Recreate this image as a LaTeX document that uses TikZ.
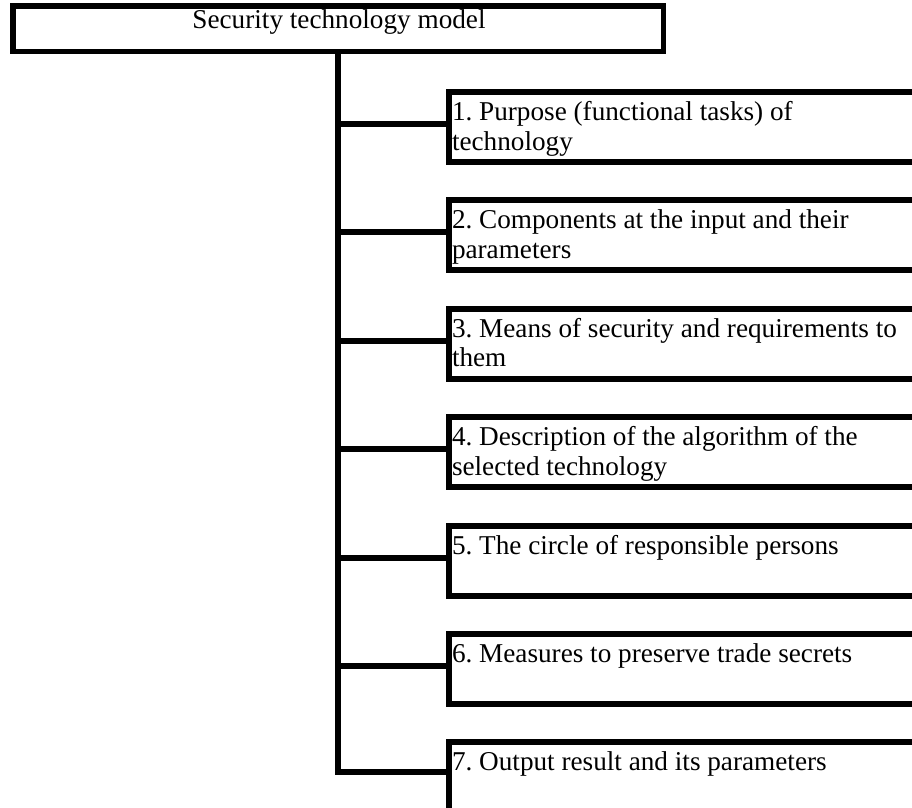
\documentclass[tikz,border=0pt]{standalone}
\usepackage{fontspec}
\setmainfont{Liberation Serif}
\frenchspacing
\begin{document}
\begin{tikzpicture}[x=1pt,y=-1pt,
  headbox/.style={draw, line width=5.5pt, minimum width=650.5pt, minimum height=45.5pt, inner sep=0pt},
  headtxt/.style={anchor=base, inner sep=0pt, font=\fontsize{27.2}{29.5}\selectfont},
  item/.style={draw, line width=6pt, anchor=north west, inner xsep=3pt, inner ysep=0pt,
    font=\fontsize{27.2}{29.5}\selectfont},
  conn/.style={line width=6pt, line join=miter, line cap=butt}]
\useasboundingbox (0,0) rectangle (912,807);
\clip (0,0) rectangle (912,807);
\newcommand{\itemtext}[2][70pt]{\parbox[t][#1][t]{480pt}{\frenchspacing\rule{0pt}{28.5pt}#2}}
% header
\node[headbox] (head) at (338,28.5) {};
\node[headtxt] (headtext) at (339,28.5) {Security technology model};
% items
\node[item] (b1) at (446,89.0) {\itemtext{1. Purpose (functional tasks) of\\technology}};
\node[item] (b2) at (446,197.4) {\itemtext{2. Components at the input and their\\parameters}};
\node[item] (b3) at (446,305.8) {\itemtext{3. Means of security and requirements to\\them}};
\node[item] (b4) at (446,414.2) {\itemtext{4. Description of the algorithm of the\\selected technology}};
\node[item] (b5) at (446,522.6) {\itemtext{5. The circle of responsible persons}};
\node[item] (b6) at (446,631.0) {\itemtext{6. Measures to preserve trade secrets}};
\node[item] (b7) at (446,739.0) {\itemtext[90pt]{7. Output result and its parameters}};
% connectors
\coordinate (c7) at (b7.north west |- 0,772);
\draw[conn] (head.south) |- (c7);
\foreach \i/\y in {b1/124,b2/232.4,b3/340.8,b4/449.2,b5/557.6,b6/666} {
  \draw[conn] (head.south |- 0,\y) -- (\i.north west |- 0,\y);
}
\end{tikzpicture}
\end{document}
